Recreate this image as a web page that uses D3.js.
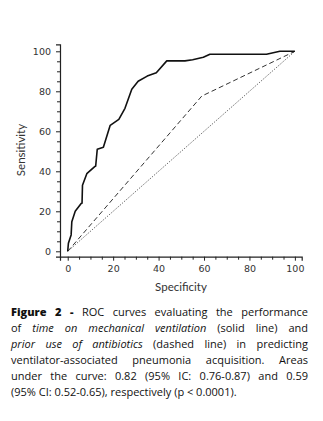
<!DOCTYPE html>
<html>
<head>
<meta charset="utf-8">
<script src="https://cdn.jsdelivr.net/npm/d3@7"></script>
<style>
  body { margin: 0; background: #fff; }
  #wrap { position: relative; width: 323px; height: 421px; overflow: hidden; }
  svg { position: absolute; left: 0; top: 0; }
  #caption {
    position: absolute; left: 11px; top: 304px; width: 297px;
    font-family: "Open Sans", "Liberation Sans", sans-serif; font-size: 11px;
    line-height: 16px; color: #111;
  }
  #caption .line { white-space: nowrap; text-align: justify; text-align-last: justify; }
  #caption .line.last { text-align-last: left; }
  #caption b { font-weight: 800; }
</style>
</head>
<body>
<div id="wrap">
  <svg id="chart" width="323" height="300"></svg>
  <div id="caption"></div>
</div>
<script>
// ROC curve for time on mechanical ventilation (solid)
const mvSpec = [0, 0.3, 1.5, 1.8, 3.3, 6, 6.3, 6.5, 8.4, 12, 12.3, 13, 15.7, 18.7, 22.5, 25.2, 28.2, 31, 35, 39, 43.6, 51.6, 55, 59.7, 62.6, 87.5, 93.4, 100];
const mvSens = [0, 4, 8.2, 14.8, 20, 24, 24, 33, 38.8, 42.5, 42.5, 51, 52, 63, 66, 71.5, 81, 85, 87.6, 89.3, 95.2, 95.2, 95.8, 97, 98.5, 98.5, 100, 100];

// ROC curve for prior use of antibiotics (dashed)
const abSpec = [0, 59, 100];
const abSens = [0, 77.6, 100];

// reference diagonal (dotted)
const refSpec = [0, 100];
const refSens = [0, 100];

const majorTicks = [0, 20, 40, 60, 80, 100];
const minorTicks = d3.range(0, 101, 5).filter(v => v % 20 !== 0);

const captionLines = [
  "<b>Figure 2 -</b> ROC curves evaluating the performance",
  "of <i>time on mechanical ventilation</i> (solid line) and",
  "<i>prior use of antibiotics</i> (dashed line) in predicting",
  "ventilator-associated pneumonia acquisition. Areas",
  "under the curve: 0.82 (95% IC: 0.76-0.87) and 0.59",
  "(95% CI: 0.52-0.65), respectively (p &lt; 0.0001)."
];

const svg = d3.select("#chart");

const x = d3.scaleLinear().domain([-3.4, 103]).range([60, 301.7]);
const y = d3.scaleLinear().domain([-2.7, 103.5]).range([256.7, 44.3]);

const zip = (a, b) => a.map((v, i) => [v, b[i]]);
const line = d3.line().x(d => x(d[0])).y(d => y(d[1]));

// axes: major ticks labelled, minor ticks plain
const axisFont = "'DejaVu Sans', sans-serif";

const xAxis = svg.append("g").attr("transform", `translate(0,${y.range()[0]})`);
xAxis.call(d3.axisBottom(x).tickValues(minorTicks).tickSize(3).tickFormat(""));
xAxis.append("g").call(d3.axisBottom(x).tickValues(majorTicks).tickSize(4).tickPadding(5));

const yAxis = svg.append("g").attr("transform", `translate(${x.range()[0]},0)`);
yAxis.call(d3.axisLeft(y).tickValues(minorTicks).tickSize(3).tickFormat(""));
yAxis.append("g").call(d3.axisLeft(y).tickValues(majorTicks).tickSize(4).tickPadding(5));

svg.selectAll(".domain").attr("stroke", "#222").attr("stroke-width", 1.2);
yAxis.select("g .domain").remove();
xAxis.select("g .domain").remove();
svg.selectAll(".tick line").attr("stroke", "#222");
svg.selectAll(".tick text")
  .attr("fill", "#333")
  .style("font-family", axisFont)
  .style("font-size", "9.5px");

svg.append("text")
  .attr("x", 181)
  .attr("y", 291)
  .attr("text-anchor", "middle")
  .style("font-family", "Lato, 'Liberation Sans', sans-serif")
  .style("font-size", "11.5px")
  .attr("fill", "#333")
  .text("Specificity");

svg.append("text")
  .attr("transform", "translate(25,150) rotate(-90)")
  .attr("text-anchor", "middle")
  .style("font-family", "Lato, 'Liberation Sans', sans-serif")
  .style("font-size", "11.5px")
  .attr("fill", "#333")
  .text("Sensitivity");

// curves
svg.append("path")
  .datum(zip(refSpec, refSens))
  .attr("d", line)
  .attr("fill", "none")
  .attr("stroke", "#444")
  .attr("stroke-width", 1)
  .attr("stroke-dasharray", "1,1.5");

svg.append("path")
  .datum(zip(abSpec, abSens))
  .attr("d", line)
  .attr("fill", "none")
  .attr("stroke", "#333")
  .attr("stroke-width", 1)
  .attr("stroke-dasharray", "5,3");

svg.append("path")
  .datum(zip(mvSpec, mvSens))
  .attr("d", line)
  .attr("fill", "none")
  .attr("stroke", "#111")
  .attr("stroke-width", 1.6)
  .attr("stroke-linejoin", "round");

// caption
d3.select("#caption").selectAll("div")
  .data(captionLines)
  .enter()
  .append("div")
  .attr("class", (d, i) => i === captionLines.length - 1 ? "line last" : "line")
  .html(d => d);
</script>
</body>
</html>
